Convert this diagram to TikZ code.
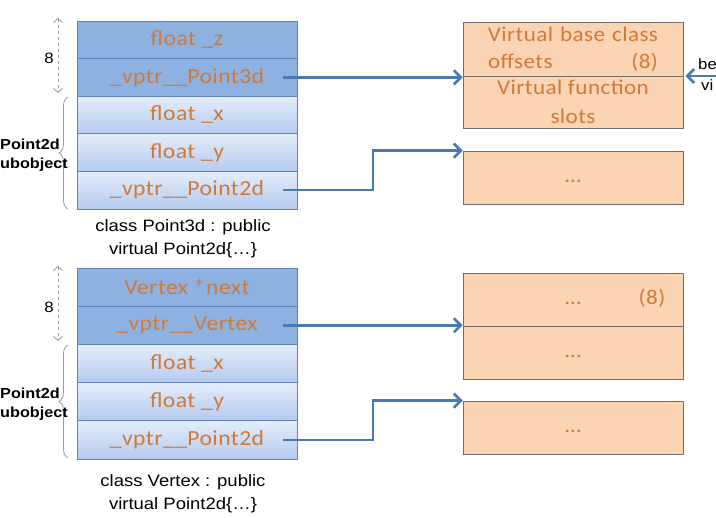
\documentclass[tikz,border=0pt]{standalone}
\usepackage{fontspec}
\setmainfont{Liberation Sans}[FakeStretch=1.12]
\newfontfamily\calfont{Carlito}[FakeStretch=1.1,LetterSpace=2]
\usetikzlibrary{arrows.meta,decorations.pathreplacing,shadows}
\definecolor{darkrowc}{RGB}{141,178,226}
\definecolor{lighttop}{RGB}{228,237,251}
\definecolor{lightbot}{RGB}{180,202,238}
\definecolor{rowline}{RGB}{96,130,186}
\definecolor{orangetxt}{RGB}{208,122,58}
\definecolor{peach}{RGB}{251,212,180}
\definecolor{peachline}{RGB}{118,108,104}
\definecolor{connc}{RGB}{74,120,176}
\definecolor{dimc}{RGB}{150,155,165}
\tikzset{
  rowbase/.style={draw=rowline, line width=0.8pt, minimum width=220pt, inner sep=0pt,
    font=\calfont\fontsize{21.5}{25}\selectfont, text=orangetxt,
    drop shadow={shadow xshift=1.2pt, shadow yshift=-1.5pt, opacity=0.25}},
  darkrow/.style={rowbase, fill=darkrowc},
  lightrow/.style={rowbase, top color=lighttop, bottom color=lightbot},
  peachbox/.style={draw=peachline, line width=0.7pt, fill=peach, minimum width=220pt,
    inner sep=0pt, font=\calfont\fontsize{21}{25}\selectfont, text=orangetxt,
    drop shadow={shadow xshift=1.2pt, shadow yshift=-1.5pt, opacity=0.25}},
  orangetext/.style={font=\calfont\fontsize{21}{25}\selectfont, text=orangetxt, inner sep=0pt},
  conn/.style={draw=connc, line width=2.6pt, -{Straight Barb[length=7pt,width=14pt]}},
  dimarrow/.style={draw=dimc, line width=0.8pt, dashed, {Straight Barb[length=4pt,width=9pt]}-{Straight Barb[length=4pt,width=9pt]}},
  bracestyle/.style={draw=dimc, line width=0.8pt, decorate, decoration={brace, amplitude=9pt}},
  caption/.style={font=\fontsize{16.5}{23}\selectfont, align=center, inner sep=0pt},
  sidelabel/.style={font=\bfseries\fontsize{14.5}{19}\selectfont, align=left, inner sep=0pt, anchor=west},
  smalllabel/.style={font=\fontsize{15}{17}\selectfont, inner sep=0pt}
}
\begin{document}
\begin{tikzpicture}[x=1pt, y=-1pt]
\useasboundingbox (0,0) rectangle (716,518);
\clip (0,0) rectangle (716,518);
\fill[white] (0,0) rectangle (716,518);

% ---------- top stack ----------
\node[darkrow, minimum height=37.6pt] (a1) at (187,39.8) {float \_z};
\node[darkrow, minimum height=37.6pt] (a2) at (187,77.4) {\_vptr\_\_Point3d};
\node[lightrow, minimum height=37.6pt] (a3) at (187,115) {float \_x};
\node[lightrow, minimum height=37.6pt] (a4) at (187,152.6) {float \_y};
\node[lightrow, minimum height=37.6pt] (a5) at (187,190.2) {\_vptr\_\_Point2d};

\coordinate (ad1) at (58,18);
\coordinate (ad2) at (58,93);
\draw[dimarrow] (ad1) -- (ad2);
\node[smalllabel] (a8) at (49,58) {8};
\coordinate (ab1) at (68,209);
\coordinate (ab2) at (68,97);
\draw[bracestyle] (ab1) -- (ab2);
\node[sidelabel] (asub) at (0,155) {Point2d\\ubobject};
\node[caption] (acap) at (183,238.5) {class Point3d : public\\virtual Point2d\{…\}};

% ---------- top right ----------
\node[peachbox, minimum height=54pt, text width=176pt, align=left, font=\calfont\fontsize{21}{27}\selectfont] (vb1) at (573,49) {\hbox to\linewidth{\hss Virtual base class\hss}\\\hspace*{3pt}offsets\hfill(8)\hspace*{3pt}};
\node[peachbox, minimum height=52pt, align=center, font=\calfont\fontsize{21}{29}\selectfont] (vb2) at (573,102) {Virtual function\\slots};
\node[peachbox, minimum height=53pt] (pb) at (573,177.5) {\strut…};

\draw[conn] ([xshift=-14pt]a2.east) -- (a2.east -| vb1.west);
\coordinate (ak) at (373,0);
\draw[conn] ([xshift=-14pt]a5.east) -| (ak |- pb.north) -- (pb.north west);

\coordinate (re) at (720,76);
\draw[conn] (re) -- ([xshift=2pt]re -| vb1.east);
\node[smalllabel, anchor=west] (rbe) at (698,64) {be};
\node[smalllabel, anchor=west] (rvi) at (701,85) {vi};

% ---------- bottom stack ----------
\node[darkrow, minimum height=38.2pt] (b1) at (187,287.1) {Vertex *next};
\node[darkrow, minimum height=38.2pt] (b2) at (187,325.3) {\_vptr\_\_Vertex};
\node[lightrow, minimum height=38.2pt] (b3) at (187,363.5) {float \_x};
\node[lightrow, minimum height=38.2pt] (b4) at (187,401.7) {float \_y};
\node[lightrow, minimum height=38.2pt] (b5) at (187,439.9) {\_vptr\_\_Point2d};

\coordinate (bd1) at (58,266);
\coordinate (bd2) at (58,341);
\draw[dimarrow] (bd1) -- (bd2);
\node[smalllabel] (b8) at (49,307) {8};
\coordinate (bb1) at (68,458);
\coordinate (bb2) at (68,345);
\draw[bracestyle] (bb1) -- (bb2);
\node[sidelabel] (bsub) at (0,404) {Point2d\\ubobject};
\node[caption] (bcap) at (183,493.5) {class Vertex : public\\virtual Point2d\{…\}};

% ---------- bottom right ----------
\node[peachbox, minimum height=53pt] (vc1) at (573,299.5) {\strut…};
\node[orangetext] (vc8) at (652,298) {(8)};
\node[peachbox, minimum height=53pt] (vc2) at (573,352.5) {\strut…};
\node[peachbox, minimum height=53pt] (pc) at (573,427.5) {\strut…};

\draw[conn] ([xshift=-14pt]b2.east) -- (b2.east -| vc1.south west);
\draw[conn] ([xshift=-14pt]b5.east) -| (ak |- pc.north) -- (pc.north west);
\end{tikzpicture}
\end{document}
